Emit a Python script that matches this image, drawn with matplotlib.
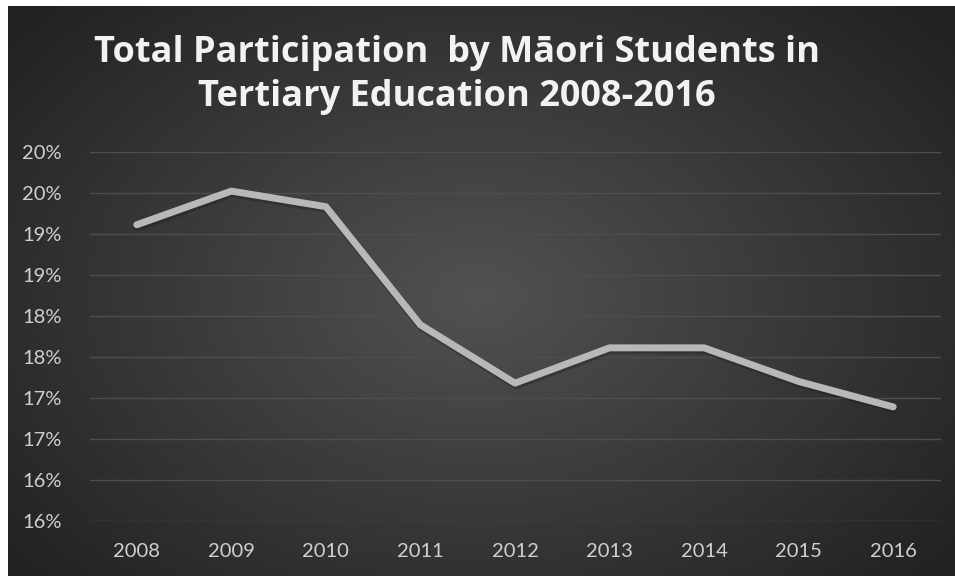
import numpy as np
import matplotlib.pyplot as plt
from matplotlib.transforms import ScaledTranslation

years = ['2008', '2009', '2010', '2011', '2012', '2013', '2014', '2015', '2016']
participation = [19.11, 19.52, 19.33, 17.89, 17.18, 17.61, 17.61, 17.20, 16.89]
ytick_vals = [15.5, 16.0, 16.5, 17.0, 17.5, 18.0, 18.5, 19.0, 19.5, 20.0]
ytick_labels = ['16%', '16%', '17%', '17%', '18%', '18%', '19%', '19%', '20%', '20%']
title_lines = ['Total Participation  by Māori Students in', 'Tertiary Education 2008-2016']

W, H = 955, 576
fig = plt.figure(figsize=(W / 100, H / 100), dpi=100)
fig.patch.set_facecolor('white')

# dark radial gradient background (starts a few px in from top/left)
bg = fig.add_axes([8 / W, 0, (W - 8) / W, (H - 6) / H])
yy, xx = np.mgrid[0:570, 0:947]
cx, cy = 470, 290
r = np.sqrt(((xx - cx) / 620.0) ** 2 + ((yy - cy) / 420.0) ** 2)
shade = np.clip(0.32 - 0.19 * r, 0.13, 0.32)
bg.imshow(np.dstack([shade] * 3), aspect='auto', interpolation='bilinear')
bg.set_axis_off()

# plot area
left, right, top, bottom = 89.5, 940.5, 151.7, 521.0
ax = fig.add_axes([left / W, (H - bottom) / H, (right - left) / W, (bottom - top) / H])
ax.patch.set_alpha(0)

x = np.arange(len(years))
shadow = ax.transData + ScaledTranslation(1 / 100, -2 / 100, fig.dpi_scale_trans)
ax.plot(x, participation, color='#1a1a1a', lw=6, alpha=0.35, solid_capstyle='round',
        solid_joinstyle='round', transform=shadow)
ax.plot(x, participation, color='#b8b8b8', lw=5, solid_capstyle='round', solid_joinstyle='round', zorder=3)

ax.set_xlim(-0.5, len(years) - 0.5)
ax.set_ylim(15.5, 20.0)
ax.set_xticks(x)
ax.set_xticklabels(years)
ax.set_yticks(ytick_vals)
ax.set_yticklabels(ytick_labels)
ax.grid(axis='y', color='#4e4e4e', lw=1.0)
ax.set_axisbelow(True)
for s in ax.spines.values():
    s.set_visible(False)
ax.tick_params(length=0, colors='#d0d0d0', labelsize=14.5)
ax.tick_params(axis='x', pad=16)
ax.tick_params(axis='y', pad=20)
for lab in ax.get_xticklabels() + ax.get_yticklabels():
    lab.set_family('Lato')

# title, two lines placed separately to get the wide line gap
fig.text(457 / W, 1 - 53 / H, title_lines[0], ha='center', va='center', color='#f2f2f2',
         fontsize=26, fontweight='bold', family='Open Sans')
fig.text(457 / W, 1 - 97 / H, title_lines[1], ha='center', va='center', color='#f2f2f2',
         fontsize=26, fontweight='bold', family='Open Sans')

fig.savefig('out.png', dpi=100)
